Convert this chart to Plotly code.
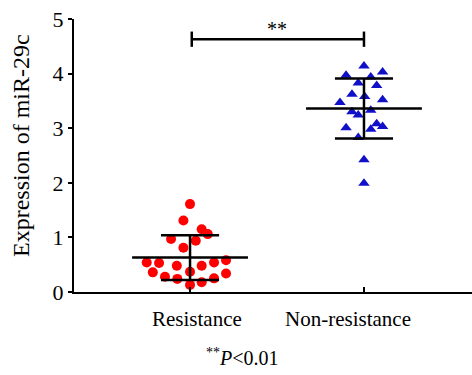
import plotly.graph_objects as go

categories = ["Resistance", "Non-resistance"]

res_values = [1.61, 1.31, 1.15, 1.06, 0.97, 0.94, 0.81, 0.54, 0.53, 0.48, 0.48,
              0.54, 0.58, 0.36, 0.28, 0.37, 0.34, 0.24, 0.25, 0.18, 0.13]
res_jitter = [0, -0.038, 0.067, 0.102, -0.109, 0.033, -0.038, -0.249, -0.178, -0.076, 0.067,
              0.138, 0.207, -0.214, -0.144, 0, 0.207, -0.073, 0.138, 0.067, 0]

non_values = [4.14, 3.97, 4.03, 3.94, 3.83, 3.78, 3.62, 3.58, 3.52, 3.47, 3.30,
              3.24, 3.33, 3.01, 2.98, 3.08, 3.03, 2.83, 2.42, 1.99]
non_jitter = [0, -0.103, 0.107, 0.039, -0.033, 0.073, -0.069, 0.004, 0.107, -0.138, -0.069,
              -0.033, 0.039, -0.103, 0.039, 0.073, 0.107, -0.033, 0, 0]

means = [0.63, 3.36]
sds = [0.41, 0.55]

y_ticks = [0, 1, 2, 3, 4, 5]
y_title = "Expression of miR-29c"
sig_y = 4.63
sig_text = "**"
footnote = "<sup>**</sup><i>P</i>&lt;0.01"

FONT = "Liberation Serif"
fig = go.Figure()

fig.add_trace(go.Scatter(
    x=[0 + j for j in res_jitter], y=res_values, mode="markers",
    marker=dict(symbol="circle", size=10, color="#ff0000"), showlegend=False))
fig.add_trace(go.Scatter(
    x=[1 + j for j in non_jitter], y=non_values, mode="markers",
    marker=dict(symbol="triangle-up", size=10, color="#1010c8"), showlegend=False))

lw = 2.5
for i, (m, s) in enumerate(zip(means, sds)):
    xs = [i - 0.333, i + 0.333, None,
          i - 0.167, i + 0.167, None,
          i - 0.167, i + 0.167, None,
          i, i]
    ys = [m, m, None,
          m + s, m + s, None,
          m - s, m - s, None,
          m - s, m + s]
    fig.add_trace(go.Scatter(x=xs, y=ys, mode="lines",
                             line=dict(color="black", width=lw), showlegend=False))

# significance bracket
fig.add_trace(go.Scatter(
    x=[0.01, 1.0, None, 0.01, 0.01, None, 1.0, 1.0],
    y=[sig_y, sig_y, None, sig_y - 0.14, sig_y + 0.14, None, sig_y - 0.14, sig_y + 0.14],
    mode="lines", line=dict(color="black", width=lw), showlegend=False))

f20 = dict(family=FONT, size=20, color="black")
f21 = dict(family=FONT, size=21, color="black")
annotations = [
    dict(x=0.5, y=sig_y, xref="x", yref="y", text=sig_text, showarrow=False,
         yanchor="middle", yshift=10, font=f20),
    dict(x=0.04, y=0, xref="x", yref="paper", text=categories[0], showarrow=False,
         yanchor="top", yshift=-13, font=f21),
    dict(x=0.91, y=0, xref="x", yref="paper", text=categories[1], showarrow=False,
         yanchor="top", yshift=-13, font=f21),
    dict(x=(242 - 74) / 398, y=(292 - 357) / 273, xref="paper", yref="paper", text=footnote,
         showarrow=False, xanchor="center", yanchor="middle", font=f20),
    dict(x=(21 - 74) / 398, y=(292 - 146) / 273, xref="paper", yref="paper", text=y_title,
         showarrow=False, xanchor="center", yanchor="middle", textangle=-90,
         font=dict(family=FONT, size=24, color="black")),
]

fig.update_layout(
    width=472, height=375,
    margin=dict(l=74, r=0, t=19, b=83),
    paper_bgcolor="white", plot_bgcolor="white",
    annotations=annotations,
    font=dict(family=FONT, color="black"),
    xaxis=dict(range=[-0.667, 1.621], showgrid=False, zeroline=False,
               showline=True, linecolor="black", linewidth=2,
               tickvals=[0, 1], showticklabels=False, ticks="inside", ticklen=5,
               tickwidth=2, tickcolor="black", automargin=False),
    yaxis=dict(range=[0, 5], showgrid=False, zeroline=False,
               showline=True, linecolor="black", linewidth=2,
               tickvals=y_ticks, ticks="outside", ticklen=4, tickwidth=2,
               tickcolor="black", tickfont=dict(family=FONT, size=22, color="black"),
               automargin=False),
)

fig.write_html("out.html", config={"displayModeBar": False},
               post_script="document.body.style.margin='0';")
